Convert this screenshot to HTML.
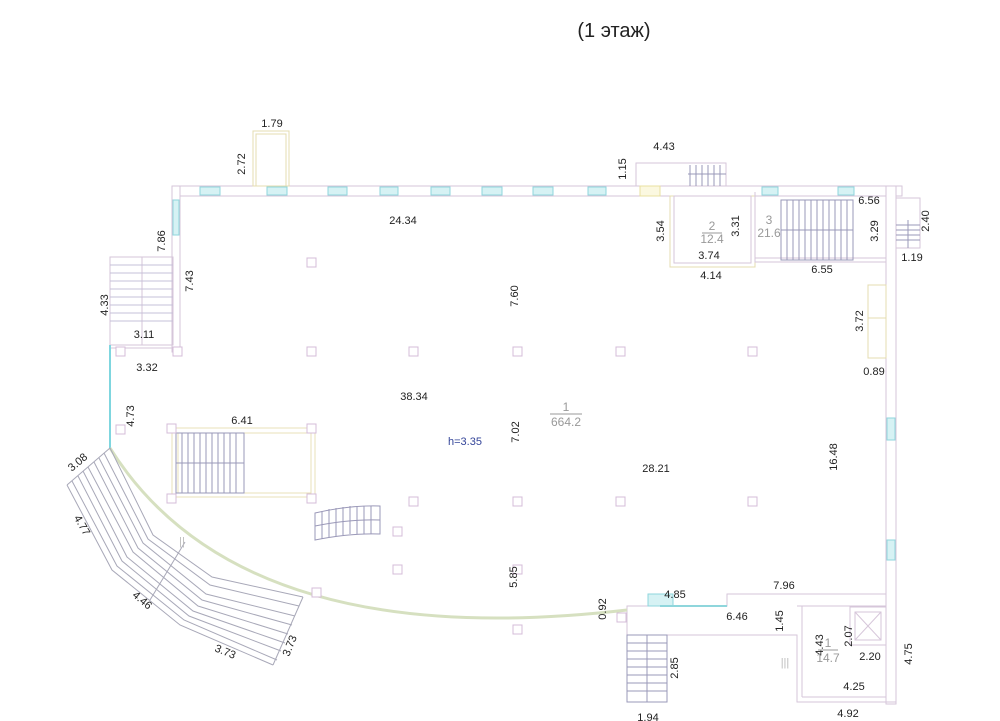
<!DOCTYPE html>
<html><head><meta charset="utf-8"><style>
html,body{margin:0;padding:0;background:#fff;width:1000px;height:721px;overflow:hidden}
svg{display:block}
text{font-family:"Liberation Sans",sans-serif;font-size:11px;fill:#222}
</style></head><body>
<svg width="1000" height="721" viewBox="0 0 1000 721" xmlns="http://www.w3.org/2000/svg">
<text x="614" y="37" text-anchor="middle" style="font-size:20px">(1 этаж)</text>
<g fill="none" stroke="#d6c6da" stroke-width="1">
<!-- top wall -->
<rect x="172" y="186" width="730" height="10" fill="#fff"/>
<!-- left wall upper -->
<rect x="172" y="186" width="8" height="166" fill="#fff"/>
<!-- right wall -->
<rect x="886" y="186" width="10" height="518" fill="#fff"/>
<line x1="886" y1="196" x2="886" y2="594"/>
<!-- bottom right block -->
<polyline points="886,594 727,594 727,606 627,606 627,702 667,702 667,635 797,635 797,702 896,702"/>
<line x1="797" y1="606" x2="886" y2="606"/>
<line x1="802" y1="606" x2="802" y2="697"/>
<line x1="802" y1="697" x2="886" y2="697"/>
<!-- elevator -->
<rect x="850" y="607" width="36" height="38"/>
<rect x="855" y="612" width="26" height="28"/>
<line x1="855" y1="612" x2="881" y2="640"/><line x1="881" y1="612" x2="855" y2="640"/>
<!-- left stair -->
<rect x="110" y="257" width="63" height="88"/>
<line x1="142" y1="257" x2="142" y2="345"/>
<g stroke="#c6c0d8">
<line x1="110" y1="265" x2="173" y2="265"/><line x1="110" y1="273" x2="173" y2="273"/><line x1="110" y1="281" x2="173" y2="281"/><line x1="110" y1="289" x2="173" y2="289"/><line x1="110" y1="297" x2="173" y2="297"/><line x1="110" y1="305" x2="173" y2="305"/><line x1="110" y1="313" x2="173" y2="313"/><line x1="110" y1="321" x2="173" y2="321"/>
</g>
<line x1="110" y1="348" x2="180" y2="348"/>
<!-- top door box -->
<rect x="253" y="131" width="36" height="55" stroke="#e4dcb0"/>
<rect x="256" y="134" width="30" height="52" stroke="#e4dcb0"/>
<!-- top right small stair -->
<rect x="636" y="163" width="90" height="23"/>
<g stroke="#9a98b8"><line x1="688" y1="174" x2="726" y2="174"/>
<line x1="690" y1="165" x2="690" y2="186"/><line x1="696" y1="165" x2="696" y2="186"/><line x1="702" y1="165" x2="702" y2="186"/><line x1="708" y1="165" x2="708" y2="186"/><line x1="714" y1="165" x2="714" y2="186"/><line x1="720" y1="165" x2="720" y2="186"/></g>
<!-- room 2 -->
<rect x="670" y="196" width="85" height="71" stroke="#e4dcb0"/>
<rect x="674" y="196" width="77" height="67"/>
<!-- room 3 -->
<polyline points="755,192 755,262 886,262"/>
<line x1="755" y1="258" x2="886" y2="258"/>
<rect x="781" y="200" width="72" height="60" stroke="#9a98b8"/>
<line x1="781" y1="230" x2="853" y2="230" stroke="#9a98b8"/>
<g stroke="#9a98b8">
<line x1="787" y1="200" x2="787" y2="260"/><line x1="793" y1="200" x2="793" y2="260"/><line x1="799" y1="200" x2="799" y2="260"/><line x1="805" y1="200" x2="805" y2="260"/><line x1="811" y1="200" x2="811" y2="260"/><line x1="817" y1="200" x2="817" y2="260"/><line x1="823" y1="200" x2="823" y2="260"/><line x1="829" y1="200" x2="829" y2="260"/><line x1="835" y1="200" x2="835" y2="260"/><line x1="841" y1="200" x2="841" y2="260"/><line x1="847" y1="200" x2="847" y2="260"/></g>
<!-- right small stair -->
<polyline points="896,198 920,198 920,248 896,248"/>
<g stroke="#9a98b8"><line x1="896" y1="225" x2="920" y2="225"/><line x1="896" y1="230" x2="920" y2="230"/><line x1="896" y1="235" x2="920" y2="235"/><line x1="896" y1="240" x2="920" y2="240"/><line x1="908" y1="220" x2="908" y2="248"/></g>
<!-- right niche -->
<rect x="868" y="285" width="18" height="73" stroke="#e4dcb0"/>
<line x1="868" y1="318" x2="886" y2="318" stroke="#e4dcb0"/>
<!-- left wall lower -->
<line x1="110" y1="345" x2="110" y2="448" stroke="#7fd6df" stroke-width="2"/>
<!-- middle stair -->
<rect x="172" y="428" width="143" height="69" stroke="#e8e0b8"/>
<rect x="178" y="433" width="133" height="60" stroke="#e8e0b8"/>
<rect x="176" y="433" width="68" height="60" stroke="#9a98b8"/>
<line x1="176" y1="463" x2="244" y2="463" stroke="#9a98b8"/>
<g stroke="#9a98b8"><line x1="182" y1="433" x2="182" y2="493"/><line x1="188" y1="433" x2="188" y2="493"/><line x1="194" y1="433" x2="194" y2="493"/><line x1="200" y1="433" x2="200" y2="493"/><line x1="206" y1="433" x2="206" y2="493"/><line x1="212" y1="433" x2="212" y2="493"/><line x1="218" y1="433" x2="218" y2="493"/><line x1="224" y1="433" x2="224" y2="493"/><line x1="230" y1="433" x2="230" y2="493"/><line x1="236" y1="433" x2="236" y2="493"/></g>
<!-- small curved stair -->
<g stroke="#9a98b8">
<path d="M315,513 Q350,505 380,506 L380,534 Q350,533 315,540 Z"/>
<path d="M315,526 Q350,519 380,520"/>
<line x1="322" y1="511" x2="322" y2="539"/><line x1="329" y1="509" x2="329" y2="537"/><line x1="336" y1="508" x2="336" y2="536"/><line x1="343" y1="507" x2="343" y2="535"/><line x1="350" y1="506" x2="350" y2="534"/><line x1="357" y1="506" x2="357" y2="534"/><line x1="364" y1="506" x2="364" y2="534"/><line x1="371" y1="506" x2="371" y2="534"/></g>
<!-- bottom-right stair -->
<rect x="627" y="635" width="40" height="67" stroke="#9a98b8"/>
<line x1="647" y1="635" x2="647" y2="702" stroke="#9a98b8"/>
<g stroke="#9a98b8"><line x1="627" y1="643" x2="667" y2="643"/><line x1="627" y1="651" x2="667" y2="651"/><line x1="627" y1="659" x2="667" y2="659"/><line x1="627" y1="667" x2="667" y2="667"/><line x1="627" y1="675" x2="667" y2="675"/><line x1="627" y1="683" x2="667" y2="683"/><line x1="627" y1="691" x2="667" y2="691"/></g>
</g>
<!-- arc -->
<path d="M110,448 Q240,655 627,610" fill="none" stroke="#d6e0c0" stroke-width="3"/>
<!-- big curved stairs -->
<g fill="none" stroke="#a8a8b8" stroke-width="1">
<polyline points="110,448 67,485"/>
<polyline points="303,597 273,665"/>
<polyline points="67,485 112,570 180,625 273,665"/>
<polyline points="72,481 117,566 184,620 277,660"/>
<polyline points="78,476 122,561 189,616 281,651"/>
<polyline points="83,471 127,557 193,611 285,643"/>
<polyline points="88,467 133,552 198,606 288,634"/>
<polyline points="94,462 138,548 202,600 292,625"/>
<polyline points="99,458 143,543 206,594 295,616"/>
<polyline points="104,453 148,539 210,585 299,606"/>
<polyline points="110,448 153,535 212,577 303,597"/>
<line x1="150" y1="600" x2="185" y2="542"/>
</g>
<!-- windows -->
<g fill="#d6f2f4" stroke="#8fd6dc" stroke-width="1">
<rect x="200" y="187" width="20" height="8"/><rect x="267" y="187" width="20" height="8"/><rect x="328" y="187" width="19" height="8"/>
<rect x="380" y="187" width="18" height="8"/><rect x="431" y="187" width="19" height="8"/><rect x="482" y="187" width="20" height="8"/>
<rect x="533" y="187" width="20" height="8"/><rect x="588" y="187" width="18" height="8"/><rect x="762" y="187" width="16" height="8"/><rect x="838" y="187" width="16" height="8"/>
<rect x="173" y="200" width="6" height="35"/>
<rect x="887" y="418" width="8" height="22"/><rect x="887" y="540" width="8" height="20"/>
<rect x="648" y="594" width="25" height="12"/>
</g>
<line x1="660" y1="606" x2="727" y2="606" stroke="#8fd6dc" stroke-width="2"/>
<rect x="640" y="186" width="20" height="10" fill="#fbf8e0" stroke="#e8e0a0"/>
<!-- columns -->
<g fill="#fff" stroke="#d4bcd8">
<rect x="307" y="258" width="9" height="9"/><rect x="307" y="347" width="9" height="9"/><rect x="409" y="347" width="9" height="9"/><rect x="513" y="347" width="9" height="9"/><rect x="616" y="347" width="9" height="9"/><rect x="748" y="347" width="9" height="9"/>
<rect x="116" y="347" width="9" height="9"/><rect x="173" y="347" width="9" height="9"/><rect x="116" y="425" width="9" height="9"/>
<rect x="167" y="424" width="9" height="9"/><rect x="307" y="424" width="9" height="9"/><rect x="167" y="494" width="9" height="9"/><rect x="307" y="494" width="9" height="9"/>
<rect x="409" y="497" width="9" height="9"/><rect x="513" y="497" width="9" height="9"/><rect x="616" y="497" width="9" height="9"/><rect x="748" y="497" width="9" height="9"/>
<rect x="393" y="527" width="9" height="9"/><rect x="393" y="565" width="9" height="9"/><rect x="513" y="565" width="9" height="9"/><rect x="312" y="588" width="9" height="9"/>
<rect x="513" y="625" width="9" height="9"/><rect x="617" y="613" width="9" height="9"/>
</g>
<!-- labels -->
<g>
<text x="272" y="127" text-anchor="middle">1.79</text>
<text x="245" y="164" text-anchor="middle" transform="rotate(-90 245 164)">2.72</text>
<text x="664" y="150" text-anchor="middle">4.43</text>
<text x="626" y="169" text-anchor="middle" transform="rotate(-90 626 169)">1.15</text>
<text x="403" y="224" text-anchor="middle">24.34</text>
<text x="165" y="241" text-anchor="middle" transform="rotate(-90 165 241)">7.86</text>
<text x="193" y="281" text-anchor="middle" transform="rotate(-90 193 281)">7.43</text>
<text x="108" y="305" text-anchor="middle" transform="rotate(-90 108 305)">4.33</text>
<text x="144" y="338" text-anchor="middle">3.11</text>
<text x="147" y="371" text-anchor="middle">3.32</text>
<text x="664" y="231" text-anchor="middle" transform="rotate(-90 664 231)">3.54</text>
<text x="739" y="226" text-anchor="middle" transform="rotate(-90 739 226)">3.31</text>
<text x="712" y="230" text-anchor="middle" style="fill:#999;font-size:12px">2</text>
<text x="712" y="243" text-anchor="middle" style="fill:#999;font-size:12px">12.4</text>
<line x1="702" y1="233" x2="722" y2="233" stroke="#999"/>
<text x="769" y="224" text-anchor="middle" style="fill:#999;font-size:12px">3</text>
<text x="769" y="237" text-anchor="middle" style="fill:#999;font-size:12px">21.6</text>
<text x="709" y="259" text-anchor="middle">3.74</text>
<text x="711" y="279" text-anchor="middle">4.14</text>
<text x="822" y="273" text-anchor="middle">6.55</text>
<text x="869" y="204" text-anchor="middle">6.56</text>
<text x="878" y="231" text-anchor="middle" transform="rotate(-90 878 231)">3.29</text>
<text x="929" y="221" text-anchor="middle" transform="rotate(-90 929 221)">2.40</text>
<text x="912" y="261" text-anchor="middle">1.19</text>
<text x="863" y="321" text-anchor="middle" transform="rotate(-90 863 321)">3.72</text>
<text x="874" y="375" text-anchor="middle">0.89</text>
<text x="518" y="296" text-anchor="middle" transform="rotate(-90 518 296)">7.60</text>
<text x="414" y="400" text-anchor="middle">38.34</text>
<text x="134" y="416" text-anchor="middle" transform="rotate(-90 134 416)">4.73</text>
<text x="242" y="424" text-anchor="middle">6.41</text>
<text x="519" y="432" text-anchor="middle" transform="rotate(-90 519 432)">7.02</text>
<text x="465" y="445" text-anchor="middle" style="fill:#334499">h=3.35</text>
<text x="566" y="411" text-anchor="middle" style="fill:#999;font-size:12px">1</text>
<line x1="550" y1="414" x2="582" y2="414" stroke="#999"/>
<text x="566" y="426" text-anchor="middle" style="fill:#999;font-size:12px">664.2</text>
<text x="656" y="472" text-anchor="middle">28.21</text>
<text x="837" y="457" text-anchor="middle" transform="rotate(-90 837 457)">16.48</text>
<text x="80" y="465" text-anchor="middle" transform="rotate(-40 80 465)">3.08</text>
<text x="79" y="527" text-anchor="middle" transform="rotate(60 79 527)">4.77</text>
<text x="140" y="603" text-anchor="middle" transform="rotate(40 140 603)">4.46</text>
<text x="224" y="655" text-anchor="middle" transform="rotate(22 224 655)">3.73</text>
<text x="293" y="647" text-anchor="middle" transform="rotate(-68 293 647)">3.73</text>
<text x="182" y="545" text-anchor="middle" style="fill:#bbb">||</text>
<text x="517" y="577" text-anchor="middle" transform="rotate(-90 517 577)">5.85</text>
<text x="606" y="609" text-anchor="middle" transform="rotate(-90 606 609)">0.92</text>
<text x="675" y="598" text-anchor="middle">4.85</text>
<text x="784" y="589" text-anchor="middle">7.96</text>
<text x="737" y="620" text-anchor="middle">6.46</text>
<text x="783" y="621" text-anchor="middle" transform="rotate(-90 783 621)">1.45</text>
<text x="852" y="636" text-anchor="middle" transform="rotate(-90 852 636)">2.07</text>
<text x="823" y="645" text-anchor="middle" transform="rotate(-90 823 645)">4.43</text>
<text x="828" y="647" text-anchor="middle" style="fill:#999;font-size:12px">1</text>
<text x="828" y="662" text-anchor="middle" style="fill:#999;font-size:12px">14.7</text>
<line x1="818" y1="650" x2="838" y2="650" stroke="#999"/>
<text x="870" y="660" text-anchor="middle">2.20</text>
<text x="912" y="654" text-anchor="middle" transform="rotate(-90 912 654)">4.75</text>
<text x="785" y="666" text-anchor="middle" style="fill:#bbb">|||</text>
<text x="854" y="690" text-anchor="middle">4.25</text>
<text x="848" y="717" text-anchor="middle">4.92</text>
<text x="678" y="668" text-anchor="middle" transform="rotate(-90 678 668)">2.85</text>
<text x="648" y="721" text-anchor="middle">1.94</text>
</g>
</svg>
</body></html>
